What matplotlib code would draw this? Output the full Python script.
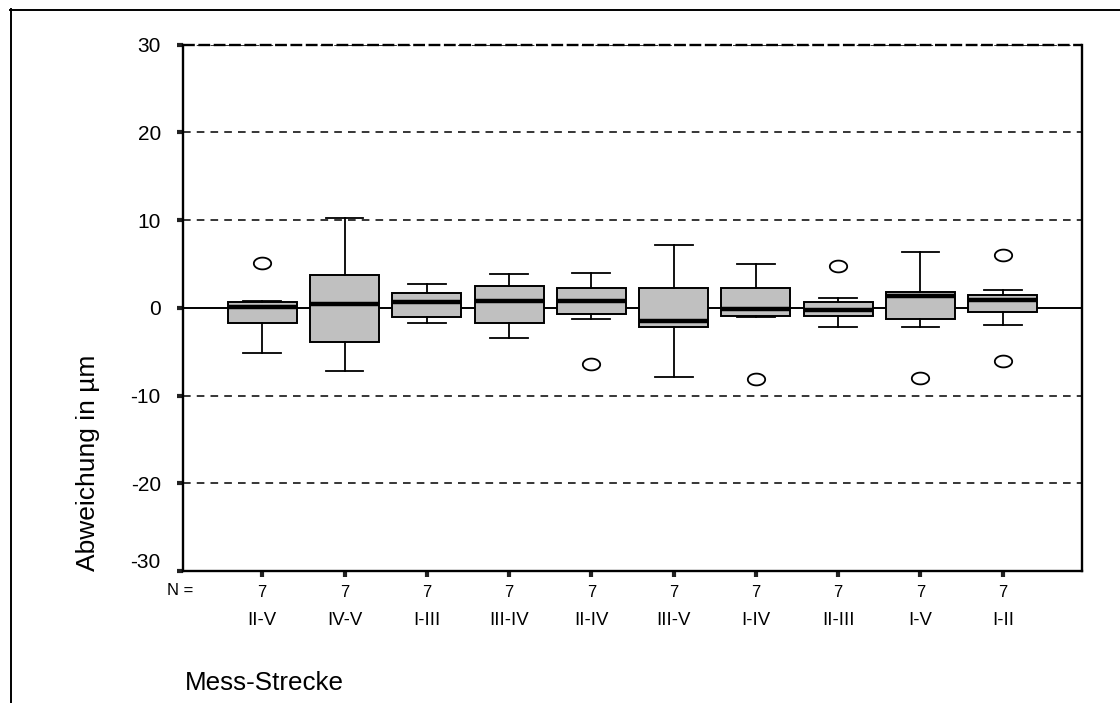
import matplotlib
matplotlib.use("Agg")
import matplotlib.pyplot as plt
import matplotlib.transforms as mtransforms
from matplotlib.path import Path
from matplotlib.lines import Line2D
import numpy as np

# values (Abweichung in um)
strecken = ["II-V", "IV-V", "I-III", "III-IV", "II-IV", "III-V", "I-IV", "II-III", "I-V", "I-II"]
n_werte = [7, 7, 7, 7, 7, 7, 7, 7, 7, 7]
q1 = [-1.7, -3.9, -1.0, -1.7, -0.7, -2.2, -0.9, -0.9, -1.3, -0.5]
median = [0.1, 0.4, 0.6, 0.8, 0.8, -1.5, -0.1, -0.2, 1.3, 0.9]
q3 = [0.7, 3.7, 1.7, 2.5, 2.2, 2.2, 2.2, 0.7, 1.8, 1.5]
whis_lo = [-5.2, -7.2, -1.7, -3.5, -1.3, -7.9, -1.1, -2.2, -2.2, -2.0]
whis_hi = [0.8, 10.2, 2.7, 3.9, 4.0, 7.2, 5.0, 1.1, 6.4, 2.0]
ausreisser = [[5.1], [], [], [], [-6.4], [], [-8.1], [4.8], [-8.0], [6.0, -6.1]]

yticks = [-30, -20, -10, 0, 10, 20, 30]

plt.rcParams["font.family"] = ["Liberation Sans", "DejaVu Sans"]

fig = plt.figure(figsize=(11.2, 7.03), dpi=100)
ax = fig.add_axes([183/1120, 1-571/703, (1082-183)/1120, (571-44.5)/703])

stats = []
for i in range(len(strecken)):
    stats.append(dict(q1=q1[i], med=median[i], q3=q3[i],
                      whislo=whis_lo[i], whishi=whis_hi[i],
                      fliers=ausreisser[i], label=strecken[i]))

# gridlines first so boxes sit on top
for y in yticks:
    if y == 0:
        ax.axhline(y, color="black", lw=1.4, zorder=1)
    elif y != -30:
        ax.axhline(y, color="black", lw=1.1, ls=(0, (5, 4)), zorder=1)

# ellipse marker for outliers
t = np.linspace(0, 2*np.pi, 60)
ellipse = Path(np.column_stack([np.cos(t), 0.68*np.sin(t)]), closed=True)

pos = np.arange(1, len(strecken)+1)
ax.bxp(stats, positions=pos, widths=0.84, patch_artist=True, showcaps=True,
       boxprops=dict(facecolor="#c0c0c0", edgecolor="black", linewidth=1.4),
       medianprops=dict(color="black", linewidth=3.2),
       whiskerprops=dict(color="black", linewidth=1.3),
       capprops=dict(color="black", linewidth=1.3),
       capwidths=0.46,
       flierprops=dict(marker=ellipse, markersize=12.5, markerfacecolor="none",
                       markeredgecolor="black", markeredgewidth=1.3),
       zorder=3)

ax.set_xlim(0.037, 10.963)
ax.set_ylim(-30, 30)
ax.set_yticks(yticks)
ax.set_yticklabels([str(v) for v in yticks], fontsize=15)
ax.set_xticks(pos)
ax.set_xticklabels([str(v) for v in n_werte], fontsize=12)
ax.tick_params(axis="both", length=4, width=3, direction="out", color="#222222")
ax.tick_params(axis="y", pad=12)
ax.tick_params(axis="x", pad=6)

ax.spines["top"].set_visible(False)
for s in ["left", "right", "bottom"]:
    ax.spines[s].set_linewidth(1.7)
ax.axhline(30, color="black", lw=1.7, ls=(0, (5, 1.5)), zorder=1, clip_on=False)

# -30 label sits a bit higher in the original
lbl = ax.get_yticklabels()[0]
lbl.set_transform(lbl.get_transform() + mtransforms.ScaledTranslation(0, 10/100, fig.dpi_scale_trans))

trans = mtransforms.blended_transform_factory(ax.transData, ax.transAxes)
for p, name in zip(pos, strecken):
    ax.text(p, -0.1026, name, transform=trans, ha="center", va="baseline", fontsize=13.4)

fig.text(180/1120, 1-595/703, "N =", ha="center", va="baseline", fontsize=12)
fig.text(185/1120, 1-690/703, "Mess-Strecke", ha="left", va="baseline", fontsize=18.7)
fig.text(88/1120, 1-463/703, "Abweichung in µm", ha="center", va="center",
         rotation=90, fontsize=19)

# outer frame, runs off the right and bottom edge
fig.add_artist(Line2D([10/1120, 1.0], [1-9.5/703, 1-9.5/703], color="black", lw=1.4, transform=fig.transFigure))
fig.add_artist(Line2D([10.5/1120, 10.5/1120], [1-9/703, 0.0], color="black", lw=1.4, transform=fig.transFigure))

fig.savefig("out.png", dpi=100)
